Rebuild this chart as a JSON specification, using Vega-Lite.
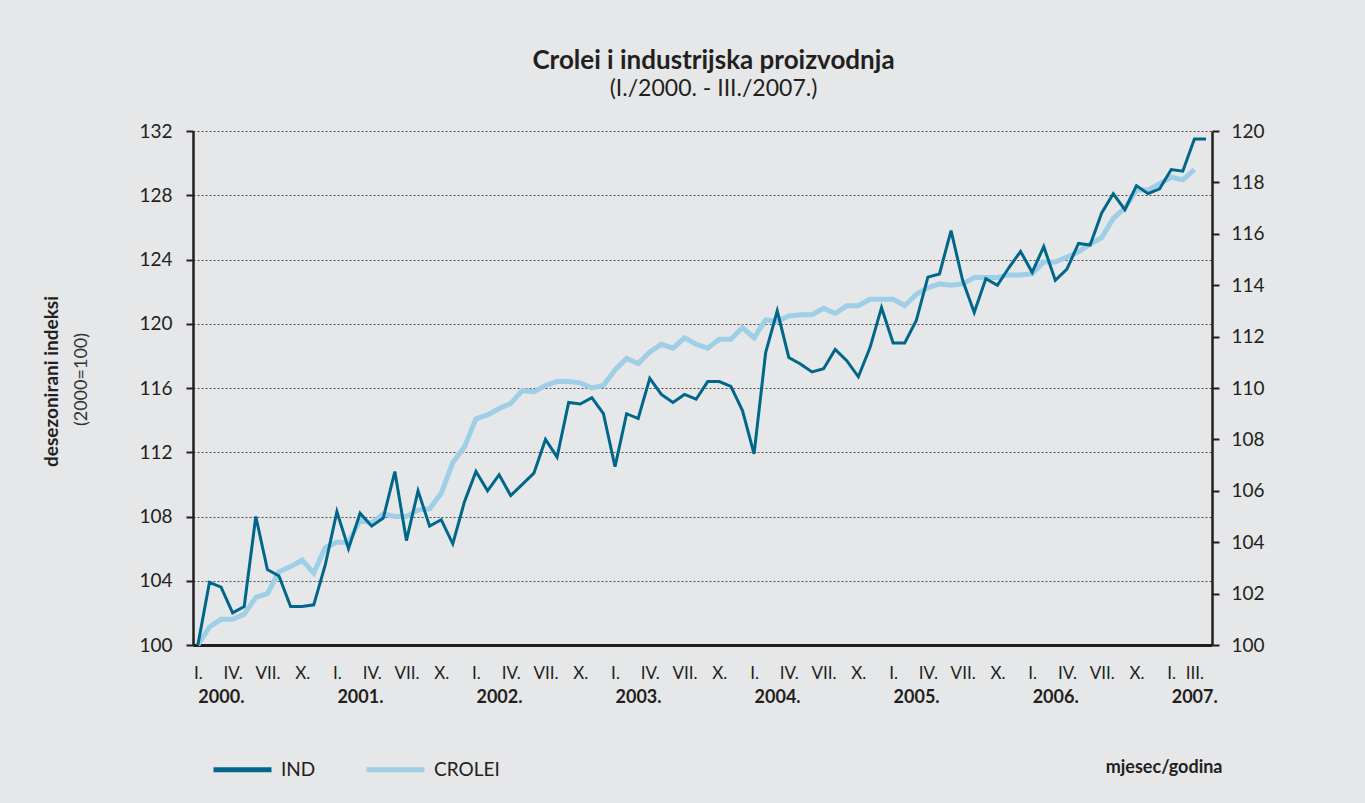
{
  "$schema": "https://vega.github.io/schema/vega-lite/v6.json",
  "width": 1019,
  "height": 514,
  "autosize": {"type": "none"},
  "padding": {"left": 193, "top": 131, "right": 153, "bottom": 158},
  "background": "#e6e7e8",
  "config": {"view": {"stroke": null}, "font": "Lato"},
  "title": {
    "text": "Crolei i industrijska proizvodnja",
    "subtitle": "(I./2000. - III./2007.)",
    "anchor": "middle",
    "frame": "group",
    "dx": 11,
    "offset": 21,
    "font": "Lato",
    "fontSize": 26,
    "fontWeight": "bold",
    "color": "#231f20",
    "subtitleFont": "Lato",
    "subtitleFontSize": 23,
    "subtitleColor": "#231f20",
    "subtitlePadding": 4
  },
  "datasets": {
    "ind": [
      {"m": 0, "v": 100.0}, {"m": 1, "v": 103.9}, {"m": 2, "v": 103.6}, {"m": 3, "v": 102.0}, {"m": 4, "v": 102.4}, {"m": 5, "v": 108.0},
      {"m": 6, "v": 104.7}, {"m": 7, "v": 104.3}, {"m": 8, "v": 102.4}, {"m": 9, "v": 102.4}, {"m": 10, "v": 102.5}, {"m": 11, "v": 105.0},
      {"m": 12, "v": 108.3}, {"m": 13, "v": 106.0}, {"m": 14, "v": 108.2}, {"m": 15, "v": 107.4}, {"m": 16, "v": 107.9}, {"m": 17, "v": 110.8},
      {"m": 18, "v": 106.5}, {"m": 19, "v": 109.6}, {"m": 20, "v": 107.4}, {"m": 21, "v": 107.8}, {"m": 22, "v": 106.3}, {"m": 23, "v": 108.9},
      {"m": 24, "v": 110.8}, {"m": 25, "v": 109.6}, {"m": 26, "v": 110.6}, {"m": 27, "v": 109.3}, {"m": 28, "v": 110.0}, {"m": 29, "v": 110.7},
      {"m": 30, "v": 112.8}, {"m": 31, "v": 111.7}, {"m": 32, "v": 115.1}, {"m": 33, "v": 115.0}, {"m": 34, "v": 115.4}, {"m": 35, "v": 114.4},
      {"m": 36, "v": 111.1}, {"m": 37, "v": 114.4}, {"m": 38, "v": 114.1}, {"m": 39, "v": 116.6}, {"m": 40, "v": 115.6}, {"m": 41, "v": 115.1},
      {"m": 42, "v": 115.6}, {"m": 43, "v": 115.3}, {"m": 44, "v": 116.4}, {"m": 45, "v": 116.4}, {"m": 46, "v": 116.1}, {"m": 47, "v": 114.6},
      {"m": 48, "v": 111.9}, {"m": 49, "v": 118.2}, {"m": 50, "v": 120.8}, {"m": 51, "v": 117.9}, {"m": 52, "v": 117.5}, {"m": 53, "v": 117.0},
      {"m": 54, "v": 117.2}, {"m": 55, "v": 118.4}, {"m": 56, "v": 117.7}, {"m": 57, "v": 116.7}, {"m": 58, "v": 118.5}, {"m": 59, "v": 121.0},
      {"m": 60, "v": 118.8}, {"m": 61, "v": 118.8}, {"m": 62, "v": 120.2}, {"m": 63, "v": 122.9}, {"m": 64, "v": 123.1}, {"m": 65, "v": 125.8},
      {"m": 66, "v": 122.7}, {"m": 67, "v": 120.7}, {"m": 68, "v": 122.8}, {"m": 69, "v": 122.4}, {"m": 70, "v": 123.5}, {"m": 71, "v": 124.5},
      {"m": 72, "v": 123.2}, {"m": 73, "v": 124.8}, {"m": 74, "v": 122.7}, {"m": 75, "v": 123.4}, {"m": 76, "v": 125.0}, {"m": 77, "v": 124.9},
      {"m": 78, "v": 126.9}, {"m": 79, "v": 128.1}, {"m": 80, "v": 127.1}, {"m": 81, "v": 128.6}, {"m": 82, "v": 128.1}, {"m": 83, "v": 128.4},
      {"m": 84, "v": 129.6}, {"m": 85, "v": 129.5}, {"m": 86, "v": 131.5}, {"m": 87, "v": 131.5}
    ],
    "crolei": [
      {"m": 0, "v": 100.0}, {"m": 1, "v": 100.7}, {"m": 2, "v": 101.0}, {"m": 3, "v": 101.0}, {"m": 4, "v": 101.2}, {"m": 5, "v": 101.85},
      {"m": 6, "v": 102.0}, {"m": 7, "v": 102.85}, {"m": 8, "v": 103.05}, {"m": 9, "v": 103.3}, {"m": 10, "v": 102.8}, {"m": 11, "v": 103.8},
      {"m": 12, "v": 104.0}, {"m": 13, "v": 104.0}, {"m": 14, "v": 104.85}, {"m": 15, "v": 104.75}, {"m": 16, "v": 105.1}, {"m": 17, "v": 105.0},
      {"m": 18, "v": 105.0}, {"m": 19, "v": 105.25}, {"m": 20, "v": 105.3}, {"m": 21, "v": 105.9}, {"m": 22, "v": 107.1}, {"m": 23, "v": 107.7},
      {"m": 24, "v": 108.8}, {"m": 25, "v": 108.95}, {"m": 26, "v": 109.2}, {"m": 27, "v": 109.4}, {"m": 28, "v": 109.9}, {"m": 29, "v": 109.85},
      {"m": 30, "v": 110.1}, {"m": 31, "v": 110.25}, {"m": 32, "v": 110.25}, {"m": 33, "v": 110.2}, {"m": 34, "v": 110.0}, {"m": 35, "v": 110.1},
      {"m": 36, "v": 110.7}, {"m": 37, "v": 111.15}, {"m": 38, "v": 110.95}, {"m": 39, "v": 111.4}, {"m": 40, "v": 111.7}, {"m": 41, "v": 111.55},
      {"m": 42, "v": 111.95}, {"m": 43, "v": 111.7}, {"m": 44, "v": 111.55}, {"m": 45, "v": 111.9}, {"m": 46, "v": 111.9}, {"m": 47, "v": 112.35},
      {"m": 48, "v": 111.95}, {"m": 49, "v": 112.65}, {"m": 50, "v": 112.6}, {"m": 51, "v": 112.8}, {"m": 52, "v": 112.85}, {"m": 53, "v": 112.85},
      {"m": 54, "v": 113.1}, {"m": 55, "v": 112.9}, {"m": 56, "v": 113.2}, {"m": 57, "v": 113.2}, {"m": 58, "v": 113.45}, {"m": 59, "v": 113.45},
      {"m": 60, "v": 113.45}, {"m": 61, "v": 113.2}, {"m": 62, "v": 113.65}, {"m": 63, "v": 113.9}, {"m": 64, "v": 114.05}, {"m": 65, "v": 114.0},
      {"m": 66, "v": 114.05}, {"m": 67, "v": 114.3}, {"m": 68, "v": 114.3}, {"m": 69, "v": 114.3}, {"m": 70, "v": 114.4}, {"m": 71, "v": 114.4},
      {"m": 72, "v": 114.45}, {"m": 73, "v": 114.9}, {"m": 74, "v": 114.9}, {"m": 75, "v": 115.1}, {"m": 76, "v": 115.3}, {"m": 77, "v": 115.6},
      {"m": 78, "v": 115.85}, {"m": 79, "v": 116.6}, {"m": 80, "v": 117.0}, {"m": 81, "v": 117.7}, {"m": 82, "v": 117.7}, {"m": 83, "v": 117.95},
      {"m": 84, "v": 118.2}, {"m": 85, "v": 118.1}, {"m": 86, "v": 118.5}
    ]
  },
  "layer": [
    {
      "data": {"name": "crolei"},
      "mark": {"type": "line", "strokeWidth": 5},
      "encoding": {
        "x": {
          "field": "m", "type": "quantitative",
          "scale": {"domain": [-0.42, 87.52], "nice": false, "zero": false},
          "axis": {
            "orient": "bottom",
            "values": [0, 12, 24, 36, 48, 60, 72, 84],
            "labelExpr": "(2000 + datum.value / 12) + '.'",
            "labelAlign": "left",
            "labelDx": -6,
            "labelFont": "Lato",
            "labelFontWeight": "bold",
            "labelFontSize": 18,
            "labelColor": "#231f20",
            "labelPadding": 43,
            "labelOverlap": false,
            "labelFlush": false,
            "ticks": false,
            "domain": false,
            "grid": false,
            "title": "mjesec/godina",
            "titleX": 1029,
            "titleY": 127,
            "titleAlign": "right",
            "titleBaseline": "alphabetic",
            "titleAngle": 0,
            "titleFont": "Lato",
            "titleFontSize": 18,
            "titleFontWeight": "bold",
            "titleColor": "#231f20"
          }
        },
        "y": {
          "field": "v", "type": "quantitative",
          "scale": {"domain": [100, 120], "nice": false, "zero": false},
          "axis": {
            "orient": "right",
            "values": [100, 102, 104, 106, 108, 110, 112, 114, 116, 118, 120],
            "grid": false,
            "domain": true,
            "domainColor": "#231f20",
            "domainWidth": 2.5,
            "tickColor": "#231f20",
            "tickSize": 7,
            "tickWidth": 2,
            "labelFont": "Lato",
            "labelFontSize": 19,
            "labelColor": "#231f20",
            "labelPadding": 12,
            "title": null
          }
        },
        "color": {
          "datum": "CROLEI", "type": "nominal",
          "scale": {"domain": ["IND", "CROLEI"], "range": ["#00678a", "#9ecfe6"]},
          "legend": {
            "orient": "none",
            "legendX": 18,
            "legendY": 607,
            "direction": "horizontal",
            "title": null,
            "padding": 0,
            "symbolType": "stroke",
            "symbolSize": 3364,
            "symbolStrokeWidth": 5,
            "labelFont": "Lato",
            "labelFontSize": 19,
            "labelColor": "#231f20",
            "labelOffset": 7,
            "columnPadding": 40
          }
        }
      }
    },
    {
      "data": {"name": "ind"},
      "mark": {"type": "line", "strokeWidth": 3},
      "encoding": {
        "x": {
          "field": "m", "type": "quantitative",
          "scale": {"domain": [-0.42, 87.52], "nice": false, "zero": false},
          "axis": {
            "orient": "bottom",
            "values": [0, 3, 6, 9, 12, 15, 18, 21, 24, 27, 30, 33, 36, 39, 42, 45, 48, 51, 54, 57, 60, 63, 66, 69, 72, 75, 78, 81, 84, 86],
            "labelExpr": "datum.value == 86 ? 'III.' : (datum.value % 12 == 0 ? 'I.' : (datum.value % 12 == 3 ? 'IV.' : (datum.value % 12 == 6 ? 'VII.' : 'X.')))",
            "labelFont": "Lato",
            "labelFontSize": 17,
            "labelColor": "#231f20",
            "labelPadding": 20,
            "labelOverlap": false,
            "labelFlush": false,
            "ticks": false,
            "domain": true,
            "domainColor": "#231f20",
            "domainWidth": 3,
            "grid": false,
            "title": null
          }
        },
        "y": {
          "field": "v", "type": "quantitative",
          "scale": {"domain": [100, 132], "nice": false, "zero": false},
          "axis": {
            "orient": "left",
            "values": [100, 104, 108, 112, 116, 120, 124, 128, 132],
            "grid": true,
            "gridDash": [2, 2],
            "gridColor": "#4d4d4d",
            "gridWidth": 1,
            "domain": true,
            "domainColor": "#231f20",
            "domainWidth": 2.5,
            "tickColor": "#231f20",
            "tickSize": 7,
            "tickWidth": 2,
            "labelFont": "Lato",
            "labelFontSize": 19,
            "labelColor": "#231f20",
            "labelPadding": 14,
            "title": "desezonirani indeksi",
            "titleX": -136,
            "titleY": 250,
            "titleAngle": -90,
            "titleAlign": "center",
            "titleBaseline": "alphabetic",
            "titleFont": "Lato",
            "titleFontSize": 19,
            "titleFontWeight": "bold",
            "titleColor": "#231f20"
          }
        },
        "color": {"datum": "IND", "type": "nominal"}
      }
    },
    {
      "data": {"name": "ind"},
      "mark": {"type": "line", "opacity": 0},
      "encoding": {
        "x": {
          "field": "m", "type": "quantitative",
          "scale": {"domain": [-0.42, 87.52], "nice": false, "zero": false},
          "axis": null
        },
        "y": {
          "field": "v", "type": "quantitative",
          "scale": {"domain": [100, 132], "nice": false, "zero": false},
          "axis": {
            "orient": "left",
            "labels": false,
            "ticks": false,
            "domain": false,
            "grid": false,
            "title": "(2000=100)",
            "titleX": -107,
            "titleY": 248,
            "titleAngle": -90,
            "titleAlign": "center",
            "titleBaseline": "alphabetic",
            "titleFont": "Lato",
            "titleFontSize": 18,
            "titleFontWeight": "normal",
            "titleColor": "#333333"
          }
        }
      }
    }
  ],
  "resolve": {"scale": {"x": "independent", "y": "independent"}}
}
